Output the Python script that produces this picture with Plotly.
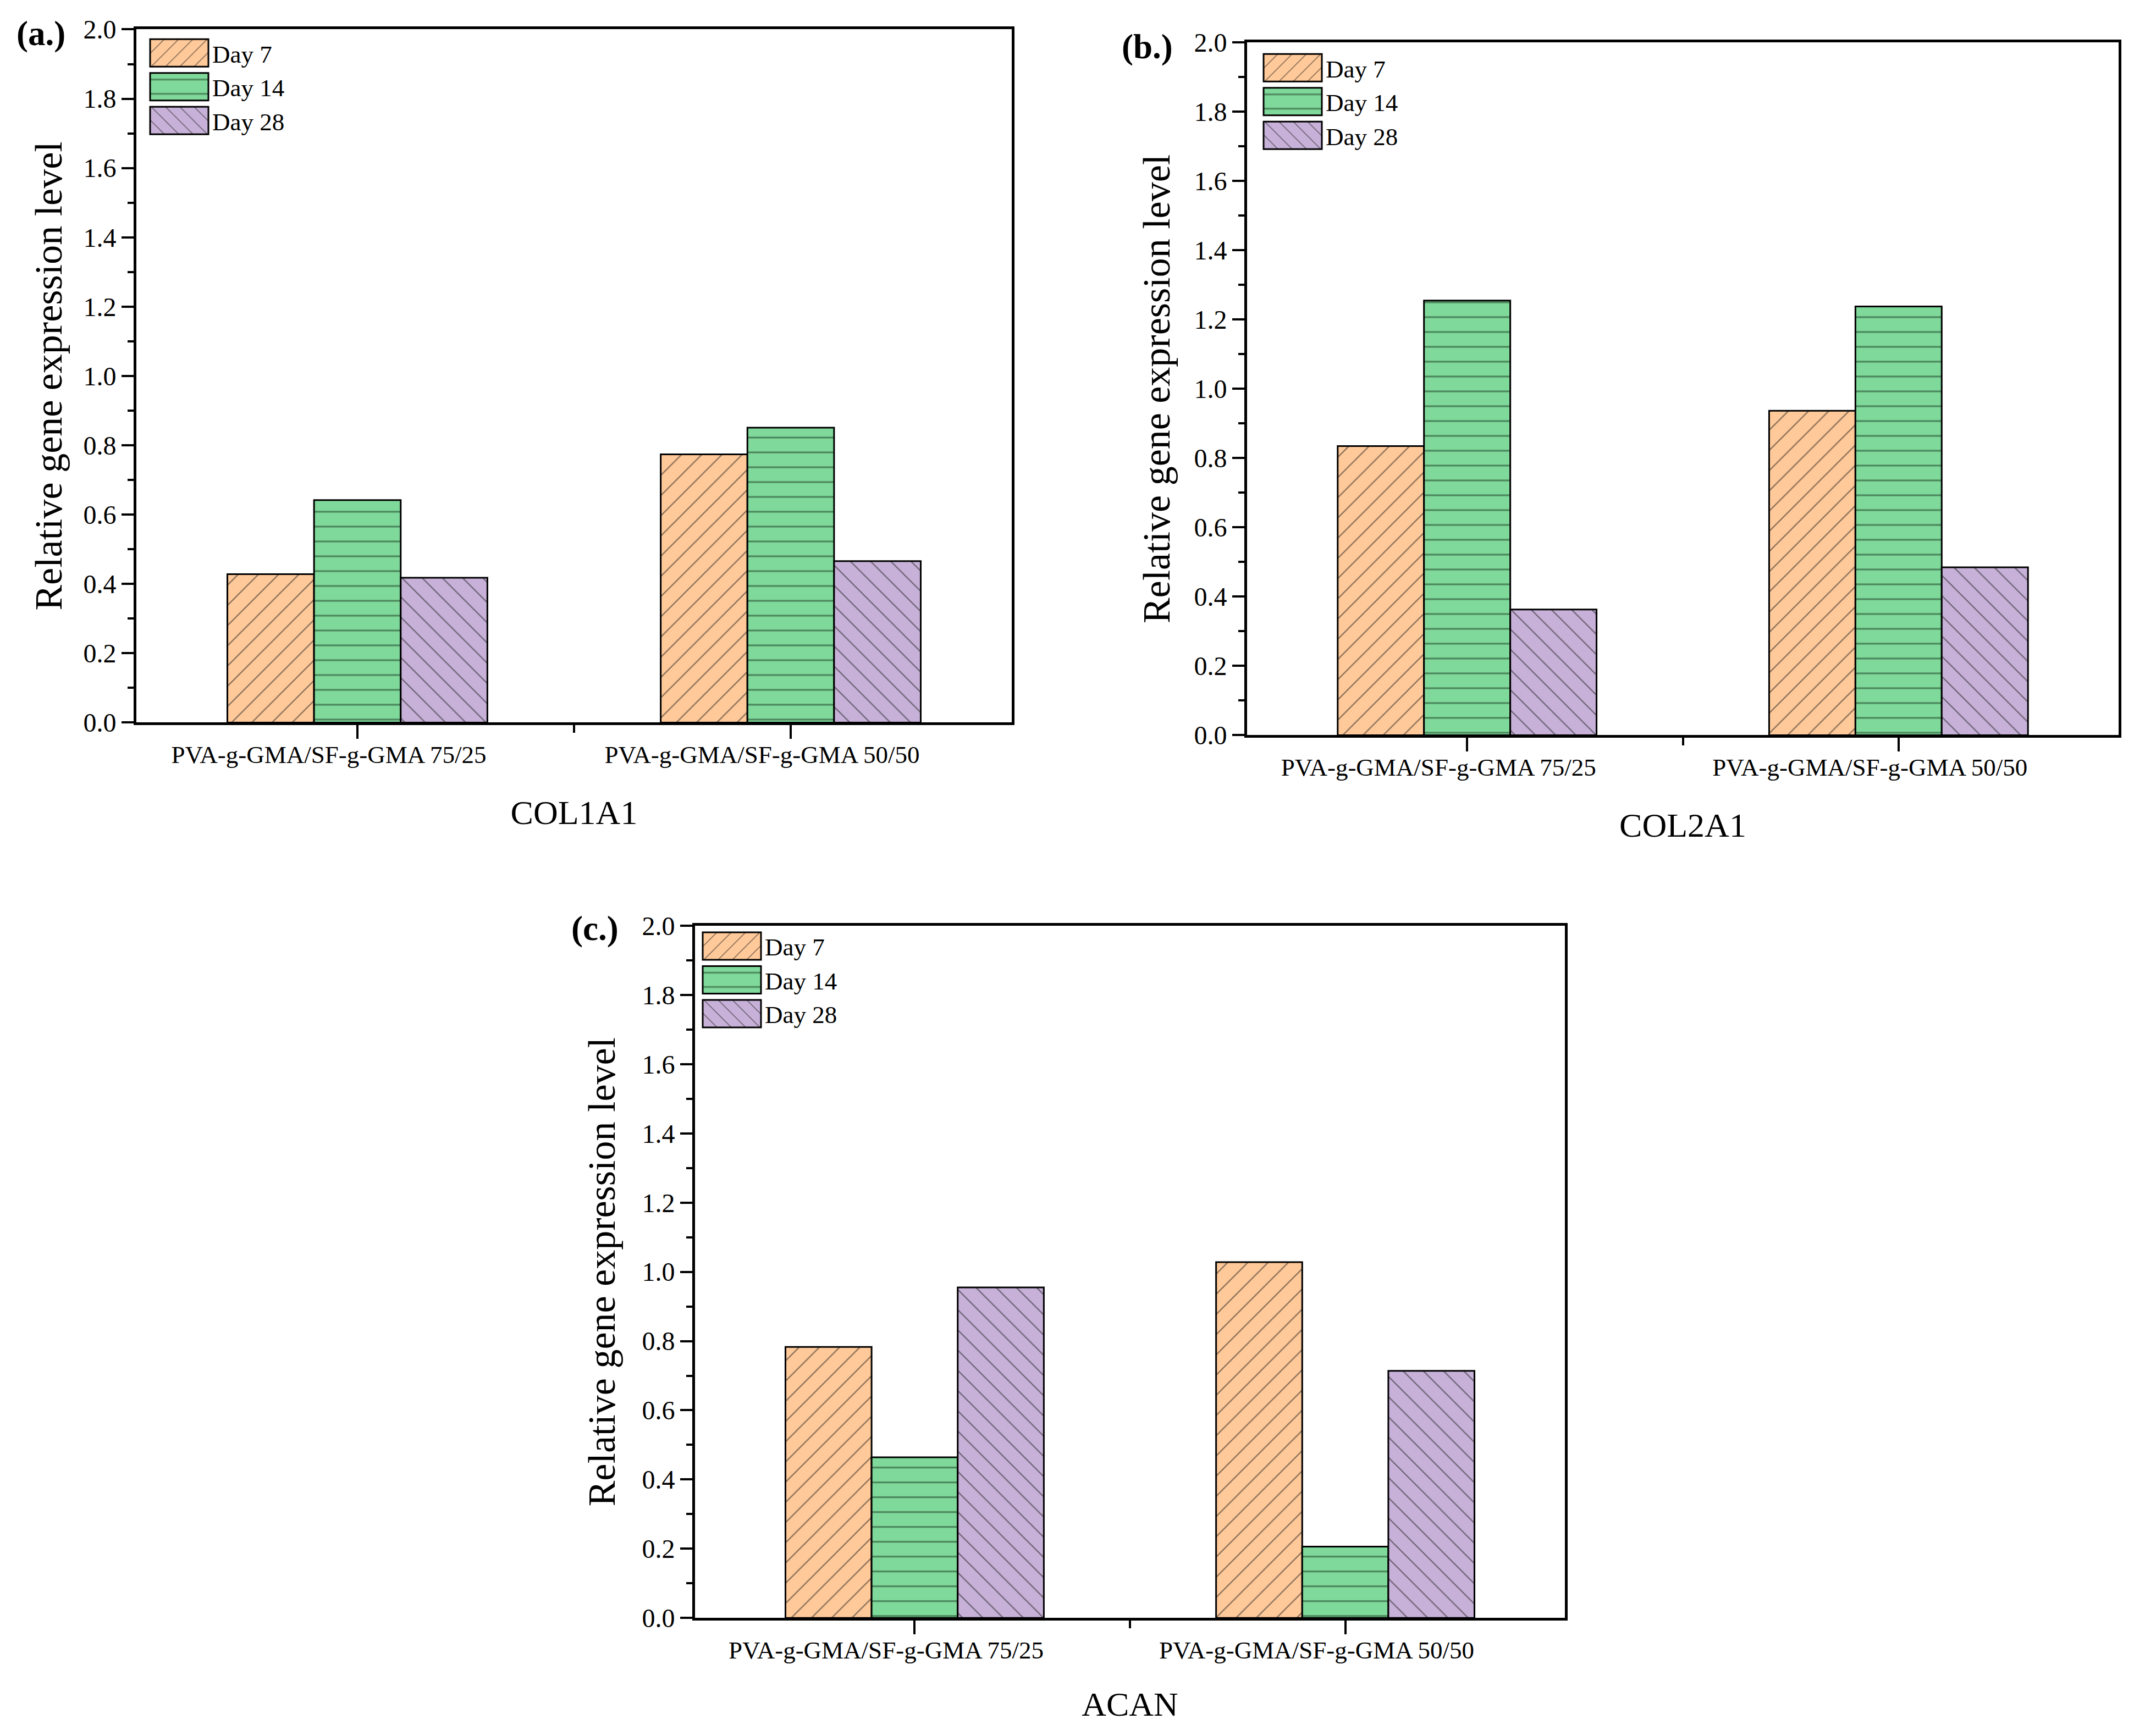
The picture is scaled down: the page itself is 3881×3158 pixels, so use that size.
import plotly.graph_objects as go

# ---------------- data ----------------
categories = ["PVA-g-GMA/SF-g-GMA 75/25", "PVA-g-GMA/SF-g-GMA 50/50"]
days = ["Day 7", "Day 14", "Day 28"]
genes = ["COL1A1", "COL2A1", "ACAN"]
panel_tags = ["(a.)", "(b.)", "(c.)"]

col1a1_day7 = [0.428, 0.774]
col1a1_day14 = [0.642, 0.851]
col1a1_day28 = [0.418, 0.466]

col2a1_day7 = [0.835, 0.937]
col2a1_day14 = [1.255, 1.238]
col2a1_day28 = [0.363, 0.485]

acan_day7 = [0.783, 1.028]
acan_day14 = [0.464, 0.206]
acan_day28 = [0.955, 0.714]

y_title = "Relative gene expression level"

# ---------------- styling ----------------
W, H = 3881, 3158
FONT = "Liberation Serif, Times New Roman, serif"
fill_colors = ["#FFC999", "#7FD99A", "#C7B1D8"]
pattern_fg = ["#1a1a1a", "#17361f", "#1a1a1a"]
pattern_shapes = ["/", "-", "\\"]
pattern_sizes = [26, 27, 26]
pattern_solidity = [0.09, 0.12, 0.09]


def vy(y):
    # vertical placement correction for the photographed page
    return 51 + (y - 81.7) / 0.984


# panel boxes in pixels: (left, right, top, bottom)
boxes = [(240, 1832, 51, 1313), (2260, 3845, 75, 1336), (1256, 2838, 1683, 2943)]
tag_pos = [(66, 59), (2078, 83), (1074, 1688)]
legend_pos = [(258, 58), (2283, 85), (1263, 1684)]
ytitle_standoff = [17, 22, 27]
ytitle_lift = [3, 0, 0]        # leading no-break spaces shift panel (a) title upward
xtitle_standoff = [60, 60, 53]

panel_data = [
    [col1a1_day7, col1a1_day14, col1a1_day28],
    [col2a1_day7, col2a1_day14, col2a1_day28],
    [acan_day7, acan_day14, acan_day28],
]

fig = go.Figure()
xpos = list(range(len(categories)))
mids = [i + 0.5 for i in range(len(categories) - 1)]

for p in range(3):
    sfx = "" if p == 0 else str(p + 1)
    leg = "legend" if p == 0 else f"legend{p + 1}"
    for d in range(3):
        fig.add_trace(go.Bar(
            x=xpos, y=panel_data[p][d], name=days[d],
            xaxis="x" + sfx, yaxis="y" + sfx, legend=leg,
            marker=dict(
                color=fill_colors[d],
                line=dict(color="black", width=3),
                pattern=dict(shape=pattern_shapes[d], fgcolor=pattern_fg[d],
                             bgcolor=fill_colors[d], size=pattern_sizes[d],
                             solidity=pattern_solidity[d]),
            ),
        ))

    l, r, t, b = boxes[p]
    xd = [l / W, r / W]
    yd = [1 - vy(b) / H, 1 - vy(t) / H]
    fig.layout["xaxis" + sfx] = dict(
        domain=xd, anchor="y" + sfx, range=[-0.51, len(categories) - 0.49],
        tickmode="array", tickvals=xpos, ticktext=categories,
        ticks="outside", ticklen=25, tickwidth=4, tickcolor="black",
        minor=dict(tickmode="array", tickvals=mids, ticks="outside", ticklen=14,
                   tickwidth=4, tickcolor="black"),
        showline=True, linewidth=5, linecolor="black", mirror=True,
        showgrid=False, zeroline=False, ticklabelshift=-52, ticklabelstandoff=-10,
        tickfont=dict(family=FONT, size=45, color="black"),
        title=dict(text=genes[p], font=dict(family=FONT, size=62, color="black"),
                   standoff=xtitle_standoff[p]),
    )
    fig.layout["yaxis" + sfx] = dict(
        domain=yd, anchor="x" + sfx, range=[0, 2.0],
        tickmode="linear", tick0=0, dtick=0.2, tickformat=".1f",
        ticks="outside", ticklen=22, tickwidth=4, tickcolor="black",
        minor=dict(dtick=0.1, ticks="outside", ticklen=11, tickwidth=4, tickcolor="black"),
        showline=True, linewidth=5, linecolor="black", mirror=True,
        showgrid=False, zeroline=False,
        tickfont=dict(family=FONT, size=48, color="black"),
        title=dict(text="\u00a0" * ytitle_lift[p] + y_title,
                   font=dict(family=FONT, size=70, color="black"),
                   standoff=ytitle_standoff[p]),
    )
    lx, ly = legend_pos[p]
    fig.layout[leg] = dict(
        x=lx / W, y=1 - vy(ly) / H, xanchor="left", yanchor="top",
        xref="paper", yref="paper",
        font=dict(family=FONT, size=45, color="black"),
        bgcolor="rgba(0,0,0,0)", borderwidth=0, tracegroupgap=0,
        traceorder="normal", itemwidth=110,
    )
    tx, ty = tag_pos[p]
    fig.add_annotation(
        x=tx / W, y=1 - vy(ty) / H, xref="paper", yref="paper",
        text=f"<b>{panel_tags[p]}</b>", showarrow=False,
        font=dict(family=FONT, size=63, color="black"),
        xanchor="center", yanchor="middle",
    )

fig.update_layout(
    width=W, height=H,
    margin=dict(l=0, r=0, t=0, b=0),
    paper_bgcolor="white", plot_bgcolor="white",
    barmode="group", bargap=0.4, bargroupgap=0,
    showlegend=True,
)

# enlarge the legend swatches to the wide boxes used in the original figure,
# and give their hatch patterns the same spacing as the bars
post_js = """
function bigSwatches(){
  var ps = document.querySelectorAll('g.legendpoints path');
  ps.forEach(function(p){
    var d = p.getAttribute('d') || '';
    if (d.indexOf('M6,6H-6V-6H6Z') === 0) { p.setAttribute('d', 'M53,25H-53V-25H53Z'); }
    var f = p.style.fill || p.getAttribute('fill') || '';
    var m = f.match(/url\\(["']?#([^"')]+)["']?\\)/);
    if (m) {
      var pat = document.getElementById(m[1]);
      if (pat && m[1].indexOf('legend') >= 0 && !pat.getAttribute('data-scaled')) {
        var w = parseFloat(pat.getAttribute('width')) || 0;
        if (w > 0 && w < 24) {
          pat.setAttribute('patternTransform', 'scale(' + (26 / w).toFixed(3) + ')');
        }
        pat.setAttribute('data-scaled', '1');
      }
    }
  });
}
bigSwatches();
var gdd = document.getElementById('{plot_id}');
if (gdd && gdd.on) { gdd.on('plotly_afterplot', bigSwatches); }
setTimeout(bigSwatches, 50);
"""

fig.write_html("out.html", post_script=post_js)
